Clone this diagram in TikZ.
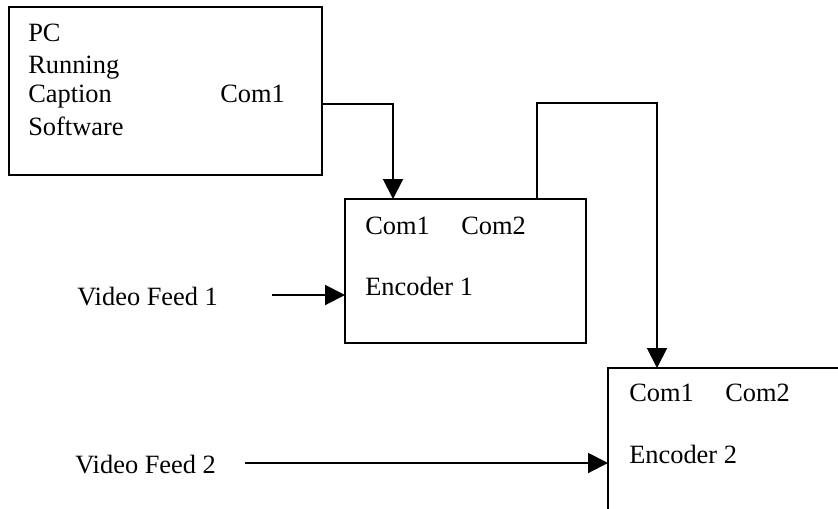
\documentclass[tikz,border=0pt]{standalone}
\usepackage{fontspec}
\setmainfont{Liberation Serif}
\usetikzlibrary{arrows.meta}
\begin{document}
\begin{tikzpicture}[x=0.75pt,y=-0.75pt,
  box/.style={draw,line width=1.5pt},
  lbl/.style={anchor=base west,inner sep=0pt,font=\fontsize{19.8}{24}\selectfont},
  wire/.style={line width=1.5pt},
  arr/.style={wire,-{Triangle[length=15pt,width=15pt]}}]
\useasboundingbox (0,0) rectangle (838,508);
\clip (0,0) rectangle (838,508);

% boxes
\draw[box] (9,7) rectangle (322,175);
\draw[box] (345,199) rectangle (586,343);
\draw[box] (608,368) rectangle (860,530);

% PC box text
\node[lbl] (pc1) at (28,41) {PC};
\node[lbl] (pc2) at (28,73) {Running};
\node[lbl] (pc3) at (28,102) {Caption};
\node[lbl] (pc4) at (28,135) {Software};
\node[lbl] (pccom) at (220,102) {Com1};

% Encoder 1 text
\node[lbl] (e1c1) at (365,234) {Com1};
\node[lbl] (e1c2) at (461,234) {Com2};
\node[lbl] (e1) at (365,295) {Encoder 1};

% Encoder 2 text
\node[lbl] (e2c1) at (629,401) {Com1};
\node[lbl] (e2c2) at (725,401) {Com2};
\node[lbl] (e2) at (629,463) {Encoder 2};

% video inputs
\node[lbl] (vf1) at (77,305) {Video Feed 1};
\node[lbl] (vf2) at (75,473) {Video Feed 2};

% ports
\coordinate (pcout) at (322,104);
\coordinate (e1in) at (393,199);
\coordinate (e1out) at (537,199);
\coordinate (e1turn) at (537,103);
\coordinate (e2in) at (657,368);
\coordinate (vf1out) at (272,295);
\coordinate (e1vin) at (345,295);
\coordinate (vf2out) at (245,463);
\coordinate (e2vin) at (608,463);

% connectors
\draw[arr] (pcout) -| (e1in);
\draw[arr] (e1out) -- (e1turn) -| (e2in);
\draw[arr] (vf1out) -- (e1vin);
\draw[arr] (vf2out) -- (e2vin);
\end{tikzpicture}
\end{document}
